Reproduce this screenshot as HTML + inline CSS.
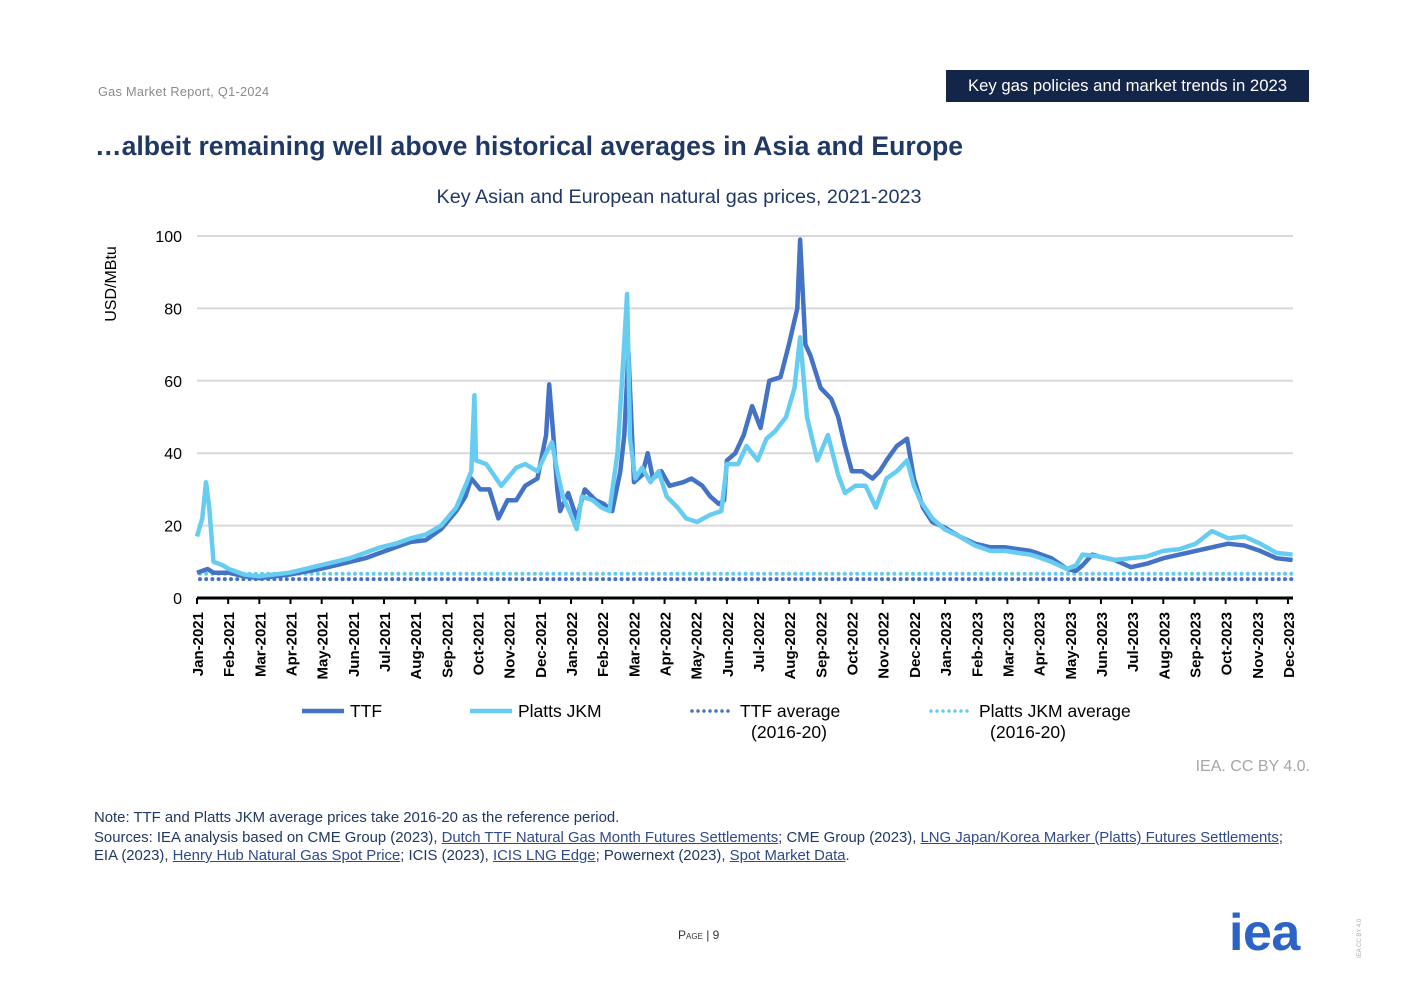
<!DOCTYPE html>
<html><head><meta charset="utf-8"><style>
body{margin:0;background:#fff;font-family:"Liberation Sans",sans-serif;}
#page{position:relative;width:1403px;height:992px;overflow:hidden;}
.abs{position:absolute;white-space:nowrap;}
a{color:#2f4a8a;text-decoration:underline;}
</style></head><body><div id="page">
<div class="abs" style="left:98px;top:85px;font-size:12.7px;color:#8a8a8a;letter-spacing:0.3px">Gas Market Report, Q1-2024</div>
<div class="abs" style="left:946px;top:70px;width:363px;height:32px;background:#14254a;color:#fff;font-size:16.7px;line-height:31px;text-align:center">Key gas policies and market trends in 2023</div>
<div class="abs" style="left:95px;top:131px;font-size:26.6px;font-weight:bold;color:#1f3864">…albeit remaining well above historical averages in Asia and Europe</div>
<div class="abs" style="left:0;width:1358px;top:186px;text-align:center;font-size:19.8px;color:#1f3864">Key Asian and European natural gas prices, 2021-2023</div>
<svg class="abs" style="left:0;top:0" width="1403" height="992" id="chart"></svg>
<div class="abs" style="right:93px;top:758px;font-size:16px;color:#a6a6a6">IEA. CC BY 4.0.</div>
<div class="abs" style="left:94px;top:809px;font-size:14.9px;color:#1f3864;line-height:19px">Note: TTF and Platts JKM average prices take 2016-20 as the reference period.<br><span style="position:relative;top:1px">Sources: IEA analysis based on CME Group (2023), <a>Dutch TTF Natural Gas Month Futures Settlements</a>; CME Group (2023), <a>LNG Japan/Korea Marker (Platts) Futures Settlements</a>;</span><br><span>EIA (2023), <a>Henry Hub Natural Gas Spot Price</a>; ICIS (2023), <a>ICIS LNG Edge</a>; Powernext (2023), <a>Spot Market Data</a>.</span></div>
<div class="abs" style="left:678px;top:928px;font-size:12px;color:#333;font-variant:small-caps">Page | 9</div>
<div class="abs" style="left:1229px;top:903px;font-size:52px;font-weight:bold;color:#2c63c7;letter-spacing:-0.5px">iea</div>
<div class="abs" style="left:1357px;top:958px;font-size:6px;color:#aaa;transform:rotate(-90deg);transform-origin:left top">IEA CC BY 4.0</div>
</div>
<script>
const months=["Jan","Feb","Mar","Apr","May","Jun","Jul","Aug","Sep","Oct","Nov","Dec"];
const years=[2021,2022,2023];
const yTicks=[0,20,40,60,80,100];
const ttfAvg=5.2, jkmAvg=6.7;
// [month index from Jan-2021, USD/MBtu]
const ttfData=[[0,7],[0.34,8],[0.53,7],[1.02,7],[1.51,6],[1.99,5.5],[2.97,6.5],[3.94,8],[4.43,9],[4.91,10],[5.4,11],[5.88,12.5],[6.37,14],[6.86,15.5],[7.34,16],[7.83,19],[8.32,24],[8.61,28],[8.8,33],[9.09,30],[9.38,30],[9.67,22],[9.96,27],[10.24,27],[10.53,31],[10.92,33],[11.2,45],[11.3,59],[11.43,45],[11.56,30],[11.65,24],[11.91,29],[12.18,22],[12.44,30],[12.79,27],[13.05,26],[13.32,24],[13.58,35],[13.71,45],[13.84,68],[14.02,32],[14.28,34],[14.46,40],[14.63,33],[14.9,35],[15.16,31],[15.6,32],[15.86,33],[16.21,31],[16.47,28],[16.74,26],[16.91,27],[17.0,38],[17.27,40],[17.54,45],[17.81,53],[18.08,47],[18.36,60],[18.72,61],[18.99,70],[19.26,80],[19.35,99],[19.52,70],[19.68,67],[20.01,58],[20.35,55],[20.57,50],[20.79,42],[21.01,35],[21.34,35],[21.67,33],[21.9,35],[22.12,38],[22.45,42],[22.78,44],[23.0,33],[23.29,25],[23.59,21],[23.98,19.5],[24.47,17],[24.96,15],[25.45,14],[25.94,14],[26.33,13.5],[26.73,13],[26.92,12.5],[27.41,11],[27.91,8],[28.2,7.5],[28.41,9],[28.72,12],[28.93,11.5],[29.44,10.5],[29.96,8.5],[30.48,9.5],[31.0,11],[31.52,12],[32.04,13],[32.56,14],[33.08,15],[33.6,14.5],[34.11,13],[34.63,11],[35.15,10.5]];
const jkmData=[[0,17],[0.17,22],[0.29,32],[0.39,25],[0.53,10],[0.83,9],[1.02,8],[1.51,6.5],[1.99,6],[2.97,7],[3.94,9],[4.43,10],[4.91,11],[5.4,12.5],[5.88,14],[6.37,15],[6.86,16.5],[7.34,17.5],[7.83,20],[8.32,25],[8.61,31],[8.8,35],[8.9,56],[8.95,38],[9.28,37],[9.76,31],[10.24,36],[10.53,37],[10.92,35],[11.2,40],[11.39,43],[11.56,35],[11.74,28],[12.0,23],[12.18,19],[12.35,28],[12.7,27],[12.97,25],[13.23,24],[13.49,40],[13.67,65],[13.8,84],[13.89,44],[14.06,33],[14.28,36],[14.55,32],[14.81,35],[15.07,28],[15.42,25],[15.69,22],[16.04,21],[16.47,23],[16.82,24],[17.0,37],[17.36,37],[17.63,42],[17.99,38],[18.27,44],[18.54,46],[18.9,50],[19.17,58],[19.35,72],[19.57,50],[19.9,38],[20.24,45],[20.57,34],[20.79,29],[21.12,31],[21.45,31],[21.78,25],[22.12,33],[22.45,35],[22.78,38],[23.0,31],[23.2,27],[23.59,22],[23.98,19],[24.47,17],[24.96,14.5],[25.45,13],[25.94,13],[26.33,12.5],[26.73,12],[26.92,11.5],[27.41,10],[27.91,8],[28.2,9],[28.41,12],[28.93,11.5],[29.44,10.5],[29.96,11],[30.48,11.5],[31.0,13],[31.52,13.5],[32.04,15],[32.56,18.5],[33.08,16.5],[33.6,17],[34.11,15],[34.63,12.5],[35.15,12]];
const svg=document.getElementById('chart');const NS='http://www.w3.org/2000/svg';
const X0=197,X1=1293,DX=31.17,Y0=598,Y1=236;
const xs=m=>X0+m*DX, ys=v=>Y0-v*(Y0-Y1)/100;
function mk(t,a,p){const e=document.createElementNS(NS,t);for(const k in a)e.setAttribute(k,a[k]);(p||svg).appendChild(e);return e;}
yTicks.forEach(v=>{if(v>0){const g=mk('line',{x1:X0,x2:X1,y1:ys(v),y2:ys(v),stroke:'#d9d9d9','stroke-width':2});

}
const t=mk('text',{x:182,y:ys(v)+6,'text-anchor':'end','font-size':16,fill:'#000','font-family':'Liberation Sans'});t.textContent=v;

});
const yt=mk('text',{transform:'translate(116,284) rotate(-90)','text-anchor':'middle','font-size':16,'font-family':'Liberation Sans'});yt.textContent='USD/MBtu';


function avg(v,c,n){const l=mk('line',{x1:X0+3,x2:X1,y1:ys(v),y2:ys(v),stroke:c,'stroke-width':4,'stroke-dasharray':'0 6.2','stroke-linecap':'round'});

}
avg(jkmAvg,'#66c9f0','jkm-average-line');avg(ttfAvg,'#4472c4','ttf-average-line');
function series(D,c,n){const d=D.map((p,i)=>(i?'L':'M')+xs(p[0]).toFixed(1)+','+ys(p[1]).toFixed(1)).join('');
const p=mk('path',{d:d,fill:'none',stroke:c,'stroke-width':4.5,'stroke-linejoin':'round'});

}
series(ttfData,'#4472c4','ttf-line');series(jkmData,'#66ccf2','jkm-line');
const ax=mk('line',{x1:X0,x2:X1,y1:Y0,y2:Y0,stroke:'#000','stroke-width':3});


let i=0;years.forEach(y=>months.forEach(m=>{const x=xs(i);
const tk=mk('line',{x1:x,x2:x,y1:Y0,y2:Y0+6,stroke:'#000','stroke-width':2});


const t=mk('text',{transform:`translate(${x+6},612) rotate(-90)`,'text-anchor':'end','font-size':15,'font-family':'Liberation Sans','font-weight':'bold'});t.textContent=m+'-'+y;

i++;}));
const leg=[['TTF','#4472c4',302,false],['Platts JKM','#66ccf2',470,false],['TTF average|(2016-20)','#4472c4',692,true],['Platts JKM average|(2016-20)','#66ccf2',931,true]];
leg.forEach(([lab,c,x,dot])=>{const g=mk('g',{});


mk('line',{x1:x,x2:x+42,y1:711,y2:711,stroke:c,'stroke-width':dot?3.5:4.5,'stroke-dasharray':dot?'0 6':'none','stroke-linecap':dot?'round':'butt'},g);
const parts=lab.split('|');parts.forEach((s,k)=>{const t=mk('text',{x:k?x+97:x+48,y:717+k*21,'font-size':17.5,'font-family':'Liberation Sans','text-anchor':k?'middle':'start'},g);t.textContent=s;});});
</script></body></html>
